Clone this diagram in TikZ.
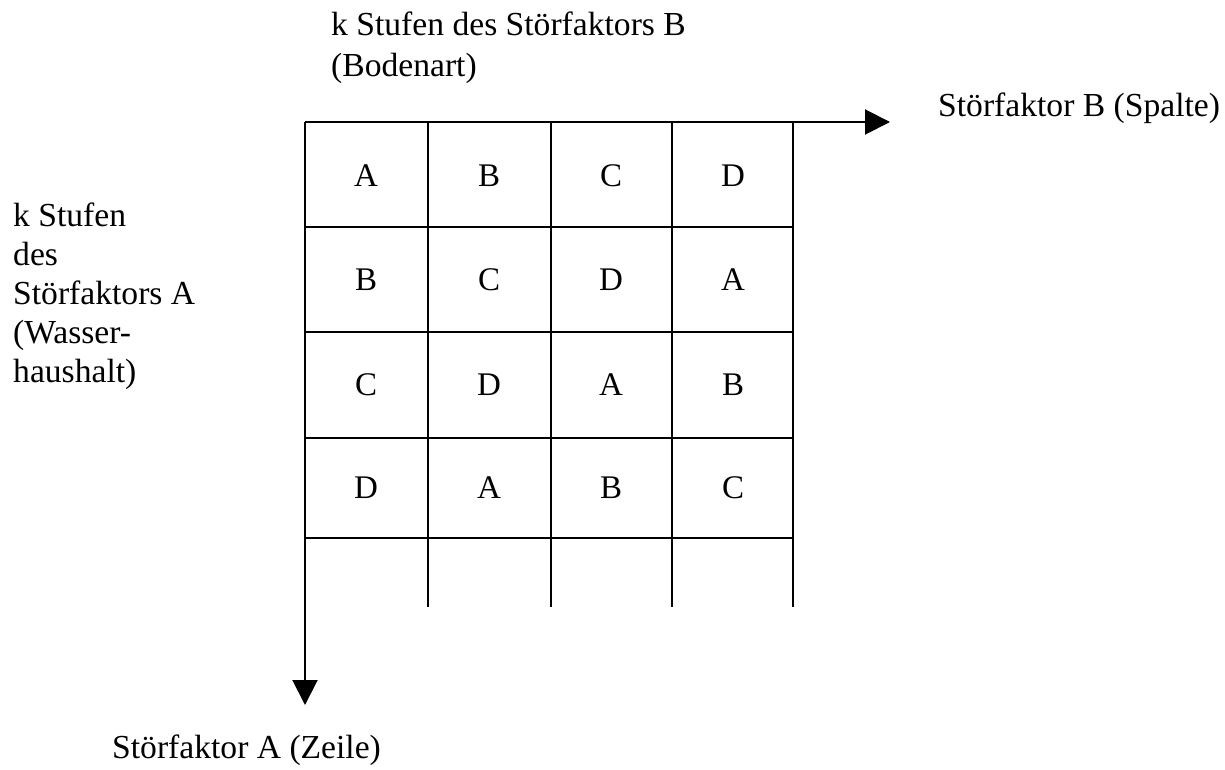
\documentclass[tikz,border=0pt]{standalone}
\usepackage{fontspec}
\setmainfont{Liberation Serif}
\usetikzlibrary{arrows.meta}
\begin{document}
\begin{tikzpicture}[x=1pt,y=-1pt,
  gridline/.style={line width=2pt,black},
  axisarrow/.style={line width=2pt,black,-{Triangle[length=25pt,width=25pt]}},
  label/.style={inner sep=0pt,anchor=base west,font=\fontsize{33.6}{39}\selectfont,align=left},
  cell/.style={inner sep=0pt,font=\fontsize{33}{39}\selectfont}]
\useasboundingbox (0,0) rectangle (1225,770);

% grid corners
\coordinate (o) at (305,122);
\coordinate (xend) at (890,122);
\coordinate (yend) at (305,705);

% column lines
\foreach \x in {428,551,672,793}
  \draw[gridline] (\x,122) -- (\x,607);
% row lines
\foreach \y in {227,332,438,538}
  \draw[gridline] (305,\y) -- (793,\y);

% axes with arrow heads
\draw[axisarrow] (o) -- (xend);
\draw[axisarrow] (o) -- (yend);

% Latin square entries
\node[cell] (c11) at (366,176) {A};
\node[cell] (c12) at (489,176) {B};
\node[cell] (c13) at (611,176) {C};
\node[cell] (c14) at (733,176) {D};
\node[cell] (c21) at (366,280) {B};
\node[cell] (c22) at (489,280) {C};
\node[cell] (c23) at (611,280) {D};
\node[cell] (c24) at (733,280) {A};
\node[cell] (c31) at (366,385) {C};
\node[cell] (c32) at (489,385) {D};
\node[cell] (c33) at (611,385) {A};
\node[cell] (c34) at (733,385) {B};
\node[cell] (c41) at (366,488) {D};
\node[cell] (c42) at (489,488) {A};
\node[cell] (c43) at (611,488) {B};
\node[cell] (c44) at (733,488) {C};

% labels (multi-line nodes are placed by the baseline of their last line)
\node[label,font=\fontsize{33.6}{41}\selectfont] (topl) at (331,77)
  {k Stufen des Störfaktors B\\(Bodenart)};
\node[label] (rightl) at (938,117) {Störfaktor B (Spalte)};
\node[label] (leftl) at (13,382)
  {k Stufen\\des\\Störfaktors A\\(Wasser-\\haushalt)};
\node[label] (bottoml) at (112,758) {Störfaktor A (Zeile)};
\end{tikzpicture}
\end{document}
